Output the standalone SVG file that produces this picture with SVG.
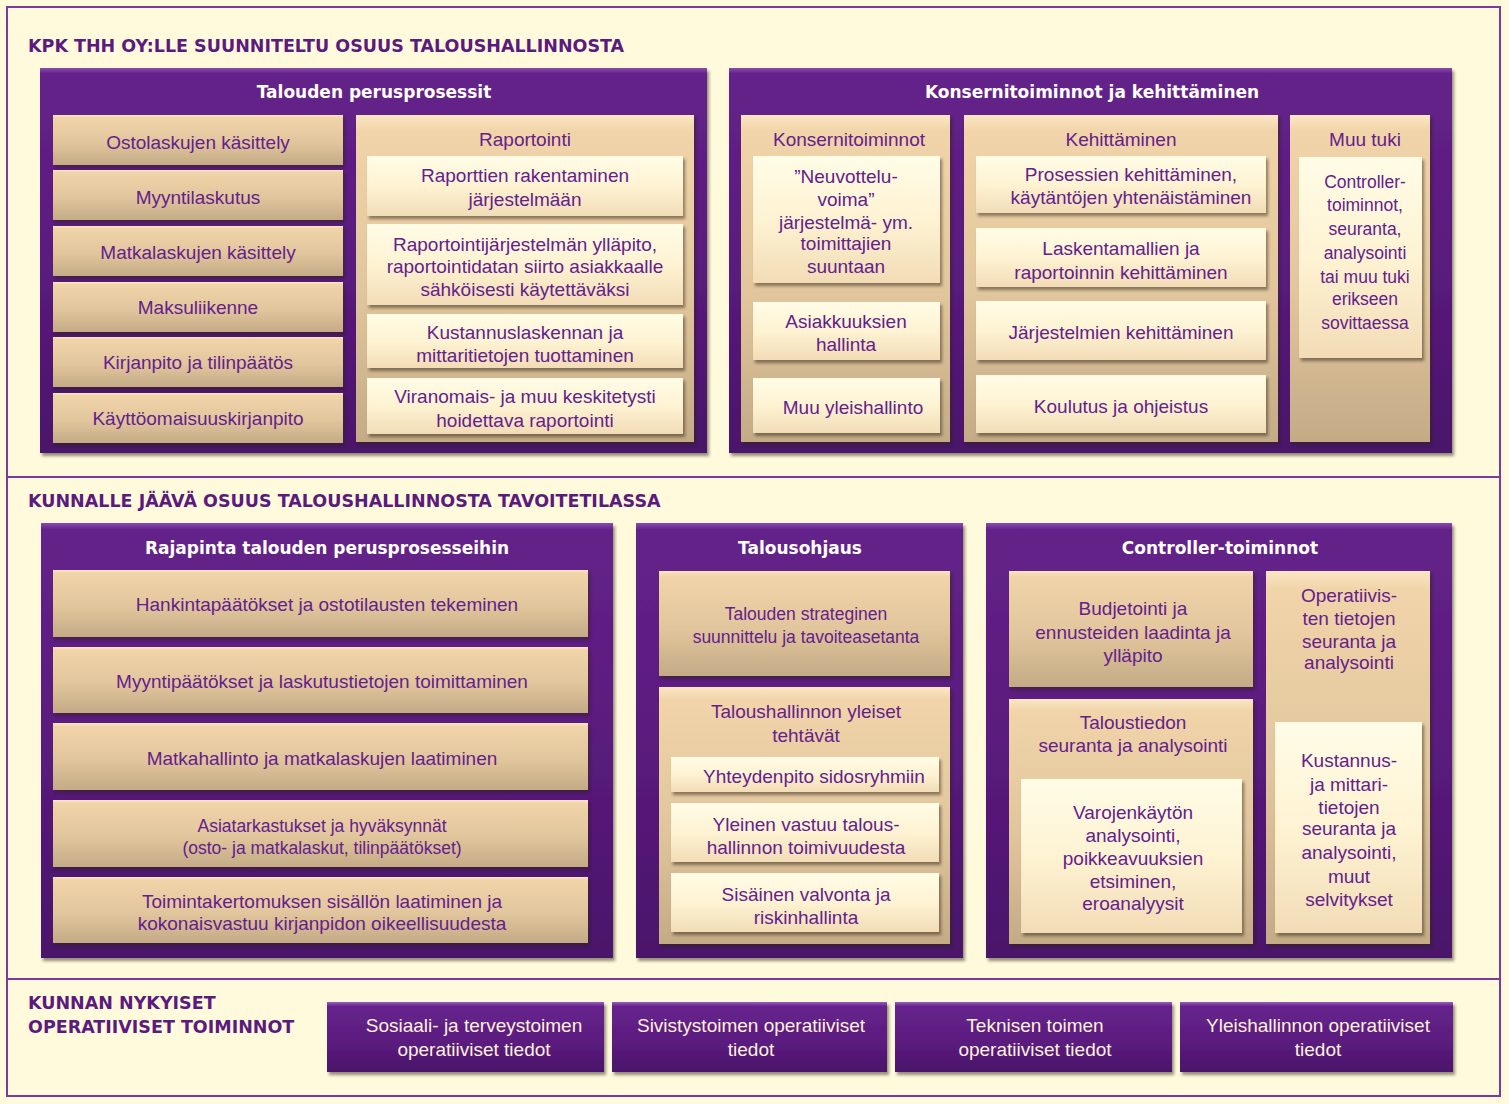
<svg xmlns="http://www.w3.org/2000/svg" width="1509" height="1104" viewBox="0 0 1509 1104">
<defs>
<linearGradient id="gP" x1="0" y1="0" x2="0" y2="1">
<stop offset="0" stop-color="#8A4AAE"/><stop offset="0.015" stop-color="#642289"/><stop offset="0.5" stop-color="#5A1B7E"/><stop offset="1" stop-color="#4A146A"/>
</linearGradient>
<linearGradient id="gPs" x1="0" y1="0" x2="0" y2="1">
<stop offset="0" stop-color="#9A5ABE"/><stop offset="0.06" stop-color="#66248C"/><stop offset="0.6" stop-color="#5A1B7E"/><stop offset="1" stop-color="#4A146A"/>
</linearGradient>
<linearGradient id="gT" x1="0" y1="0" x2="0" y2="1">
<stop offset="0" stop-color="#FBE6C4"/><stop offset="0.05" stop-color="#F1D4A9"/><stop offset="0.55" stop-color="#E1C59C"/><stop offset="1" stop-color="#C4AB86"/>
</linearGradient>
<linearGradient id="gC" x1="0" y1="0" x2="0" y2="1">
<stop offset="0" stop-color="#FFFCE6"/><stop offset="0.5" stop-color="#FEF3D3"/><stop offset="1" stop-color="#F2DCB6"/>
</linearGradient>
<filter id="sh" x="-10%" y="-10%" width="130%" height="140%">
<feDropShadow dx="2" dy="3" stdDeviation="1.6" flood-color="#2A1A10" flood-opacity="0.5"/>
</filter>
<style>
.frame{fill:none;stroke:#7D3A9D;stroke-width:2}
.pb{fill:url(#gP);filter:url(#sh)}
.ps{fill:url(#gPs);filter:url(#sh)}
.tan{fill:url(#gT);filter:url(#sh)}
.cr{fill:url(#gC);filter:url(#sh)}
.sec{font-family:"DejaVu Sans",Verdana,sans-serif;font-weight:bold;font-size:17.5px;fill:#5B1A7E}
.hdr{font-family:"DejaVu Sans",Verdana,sans-serif;font-weight:bold;font-size:17px;fill:#FFFFFF;text-anchor:middle}
.t{font-family:"Liberation Sans",Arial,sans-serif;font-size:19px;fill:#64218C;text-anchor:middle}
.s{font-size:17.5px}
.tw{font-family:"Liberation Sans",Arial,sans-serif;font-size:19px;fill:#FFF1DC;text-anchor:middle}
</style>
</defs>
<rect x="0" y="0" width="1509" height="1104" fill="#FFFADC"/>
<g id="frame">
<rect class="frame" x="7" y="7" width="1493" height="1089"/>
<line class="frame" x1="7" y1="477" x2="1500" y2="477"/>
<line class="frame" x1="7" y1="979" x2="1500" y2="979"/>
</g>
<g id="connectors"></g>

<g id="sec1">
<text class="sec" x="28" y="52">KPK THH OY:LLE SUUNNITELTU OSUUS TALOUSHALLINNOSTA</text>
</g>

<g id="perusprosessit">
<rect class="pb" x="40" y="68" width="667" height="385"/>
<text class="hdr" x="374" y="98">Talouden perusprosessit</text>
<rect class="tan" x="53" y="115" width="290" height="50"/><text class="t" x="198" y="149">Ostolaskujen käsittely</text>
<rect class="tan" x="53" y="170" width="290" height="50"/><text class="t" x="198" y="204">Myyntilaskutus</text>
<rect class="tan" x="53" y="226" width="290" height="50"/><text class="t" x="198" y="259">Matkalaskujen käsittely</text>
<rect class="tan" x="53" y="282" width="290" height="50"/><text class="t" x="198" y="314">Maksuliikenne</text>
<rect class="tan" x="53" y="337" width="290" height="50"/><text class="t" x="198" y="369">Kirjanpito ja tilinpäätös</text>
<rect class="tan" x="53" y="393" width="290" height="50"/><text class="t" x="198" y="425">Käyttöomaisuuskirjanpito</text>
<g id="raportointi">
<rect class="tan" x="356" y="115" width="338" height="327"/>
<text class="t" x="525" y="146">Raportointi</text>
<rect class="cr" x="367" y="156" width="316" height="60"/>
<text class="t" x="525" y="182">Raporttien rakentaminen</text><text class="t" x="525" y="206">järjestelmään</text>
<rect class="cr" x="367" y="224" width="316" height="81"/>
<text class="t" x="525" y="251">Raportointijärjestelmän ylläpito,</text><text class="t" x="525" y="273">raportointidatan siirto asiakkaalle</text><text class="t" x="525" y="296">sähköisesti käytettäväksi</text>
<rect class="cr" x="367" y="314" width="316" height="54"/>
<text class="t" x="525" y="339">Kustannuslaskennan ja</text><text class="t" x="525" y="362">mittaritietojen tuottaminen</text>
<rect class="cr" x="367" y="378" width="316" height="56"/>
<text class="t" x="525" y="403">Viranomais- ja muu keskitetysti</text><text class="t" x="525" y="427">hoidettava raportointi</text>
</g>
</g>

<g id="konsernitoiminnot-kehittaminen">
<rect class="pb" x="729" y="68" width="723" height="385"/>
<text class="hdr" x="1092" y="98">Konsernitoiminnot ja kehittäminen</text>
<g id="konsernitoiminnot">
<rect class="tan" x="741" y="115" width="209" height="327"/>
<text class="t" x="849" y="146">Konsernitoiminnot</text>
<rect class="cr" x="753" y="156" width="187" height="127"/>
<text class="t" x="846" y="183">”Neuvottelu-</text><text class="t" x="846" y="206">voima”</text><text class="t" x="846" y="229">järjestelmä- ym.</text><text class="t" x="846" y="250">toimittajien</text><text class="t" x="846" y="273">suuntaan</text>
<rect class="cr" x="753" y="302" width="187" height="58"/>
<text class="t" x="846" y="328">Asiakkuuksien</text><text class="t" x="846" y="351">hallinta</text>
<rect class="cr" x="753" y="378" width="187" height="55"/>
<text class="t" x="853" y="414">Muu yleishallinto</text>
</g>
<g id="kehittaminen">
<rect class="tan" x="964" y="115" width="314" height="327"/>
<text class="t" x="1121" y="146">Kehittäminen</text>
<rect class="cr" x="976" y="156" width="290" height="57"/>
<text class="t" x="1131" y="181">Prosessien kehittäminen,</text><text class="t" x="1131" y="204">käytäntöjen yhtenäistäminen</text>
<rect class="cr" x="976" y="228" width="290" height="59"/>
<text class="t" x="1121" y="255">Laskentamallien ja</text><text class="t" x="1121" y="279">raportoinnin kehittäminen</text>
<rect class="cr" x="976" y="301" width="290" height="59"/>
<text class="t" x="1121" y="339">Järjestelmien kehittäminen</text>
<rect class="cr" x="976" y="375" width="290" height="58"/>
<text class="t" x="1121" y="413">Koulutus ja ohjeistus</text>
</g>
<g id="muu-tuki">
<rect class="tan" x="1290" y="115" width="140" height="327"/>
<text class="t" x="1365" y="146">Muu tuki</text>
<rect class="cr" x="1299" y="157" width="123" height="201"/>
<text class="t s" x="1365" y="188">Controller-</text><text class="t s" x="1365" y="211">toiminnot,</text><text class="t s" x="1365" y="235">seuranta,</text><text class="t s" x="1365" y="259">analysointi</text><text class="t s" x="1365" y="283">tai muu tuki</text><text class="t s" x="1365" y="305">erikseen</text><text class="t s" x="1365" y="329">sovittaessa</text>
</g>
</g>

<g id="sec2">
<text class="sec" x="28" y="507">KUNNALLE JÄÄVÄ OSUUS TALOUSHALLINNOSTA TAVOITETILASSA</text>
</g>

<g id="rajapinta">
<rect class="pb" x="41" y="523" width="572" height="435"/>
<text class="hdr" x="327" y="554">Rajapinta talouden perusprosesseihin</text>
<rect class="tan" x="53" y="570" width="535" height="67"/><text class="t" x="327" y="611">Hankintapäätökset ja ostotilausten tekeminen</text>
<rect class="tan" x="53" y="647" width="535" height="66"/><text class="t" x="322" y="688">Myyntipäätökset ja laskutustietojen toimittaminen</text>
<rect class="tan" x="53" y="723" width="535" height="67"/><text class="t" x="322" y="765">Matkahallinto ja matkalaskujen laatiminen</text>
<rect class="tan" x="53" y="800" width="535" height="67"/><text class="t s" x="322" y="832">Asiatarkastukset ja hyväksynnät</text><text class="t s" x="322" y="854">(osto- ja matkalaskut, tilinpäätökset)</text>
<rect class="tan" x="53" y="877" width="535" height="66"/><text class="t" x="322" y="908">Toimintakertomuksen sisällön laatiminen ja</text><text class="t" x="322" y="930">kokonaisvastuu kirjanpidon oikeellisuudesta</text>
</g>

<g id="talousohjaus">
<rect class="pb" x="636" y="523" width="327" height="435"/>
<text class="hdr" x="800" y="554">Talousohjaus</text>
<rect class="tan" x="659" y="571" width="291" height="105"/>
<text class="t s" x="806" y="620">Talouden strateginen</text><text class="t s" x="806" y="643">suunnittelu ja tavoiteasetanta</text>
<rect class="tan" x="659" y="687" width="291" height="257"/>
<text class="t" x="806" y="718">Taloushallinnon yleiset</text><text class="t" x="806" y="742">tehtävät</text>
<rect class="cr" x="671" y="757" width="268" height="35"/><text class="t" x="814" y="783">Yhteydenpito sidosryhmiin</text>
<rect class="cr" x="671" y="803" width="268" height="59"/><text class="t" x="806" y="831">Yleinen vastuu talous-</text><text class="t" x="806" y="854">hallinnon toimivuudesta</text>
<rect class="cr" x="671" y="873" width="268" height="59"/><text class="t" x="806" y="901">Sisäinen valvonta ja</text><text class="t" x="806" y="924">riskinhallinta</text>
</g>

<g id="controller">
<rect class="pb" x="986" y="523" width="466" height="435"/>
<text class="hdr" x="1220" y="554">Controller-toiminnot</text>
<rect class="tan" x="1009" y="571" width="244" height="116"/>
<text class="t" x="1133" y="615">Budjetointi ja</text><text class="t" x="1133" y="639">ennusteiden laadinta ja</text><text class="t" x="1133" y="662">ylläpito</text>
<rect class="tan" x="1009" y="699" width="244" height="245"/>
<text class="t" x="1133" y="729">Taloustiedon</text><text class="t" x="1133" y="752">seuranta ja analysointi</text>
<rect class="cr" x="1021" y="779" width="221" height="154"/>
<text class="t" x="1133" y="819">Varojenkäytön</text><text class="t" x="1133" y="842">analysointi,</text><text class="t" x="1133" y="865">poikkeavuuksien</text><text class="t" x="1133" y="888">etsiminen,</text><text class="t" x="1133" y="910">eroanalyysit</text>
<rect class="tan" x="1266" y="571" width="164" height="373"/>
<text class="t" x="1349" y="602">Operatiivis-</text><text class="t" x="1349" y="625">ten tietojen</text><text class="t" x="1349" y="648">seuranta ja</text><text class="t" x="1349" y="669">analysointi</text>
<rect class="cr" x="1275" y="722" width="147" height="211"/>
<text class="t" x="1349" y="767">Kustannus-</text><text class="t" x="1349" y="791">ja mittari-</text><text class="t" x="1349" y="814">tietojen</text><text class="t" x="1349" y="835">seuranta ja</text><text class="t" x="1349" y="859">analysointi,</text><text class="t" x="1349" y="883">muut</text><text class="t" x="1349" y="906">selvitykset</text>
</g>

<g id="sec3">
<text class="sec" x="28" y="1009">KUNNAN NYKYISET</text>
<text class="sec" x="28" y="1033">OPERATIIVISET TOIMINNOT</text>
</g>
<g id="op1"><rect class="ps" x="327" y="1002" width="277" height="70"/><text class="tw" x="474" y="1032">Sosiaali- ja terveystoimen</text><text class="tw" x="474" y="1056">operatiiviset tiedot</text></g>
<g id="op2"><rect class="ps" x="612" y="1002" width="275" height="70"/><text class="tw" x="751" y="1032">Sivistystoimen operatiiviset</text><text class="tw" x="751" y="1056">tiedot</text></g>
<g id="op3"><rect class="ps" x="895" y="1002" width="277" height="70"/><text class="tw" x="1035" y="1032">Teknisen toimen</text><text class="tw" x="1035" y="1056">operatiiviset tiedot</text></g>
<g id="op4"><rect class="ps" x="1180" y="1002" width="273" height="70"/><text class="tw" x="1318" y="1032">Yleishallinnon operatiiviset</text><text class="tw" x="1318" y="1056">tiedot</text></g>
</svg>
